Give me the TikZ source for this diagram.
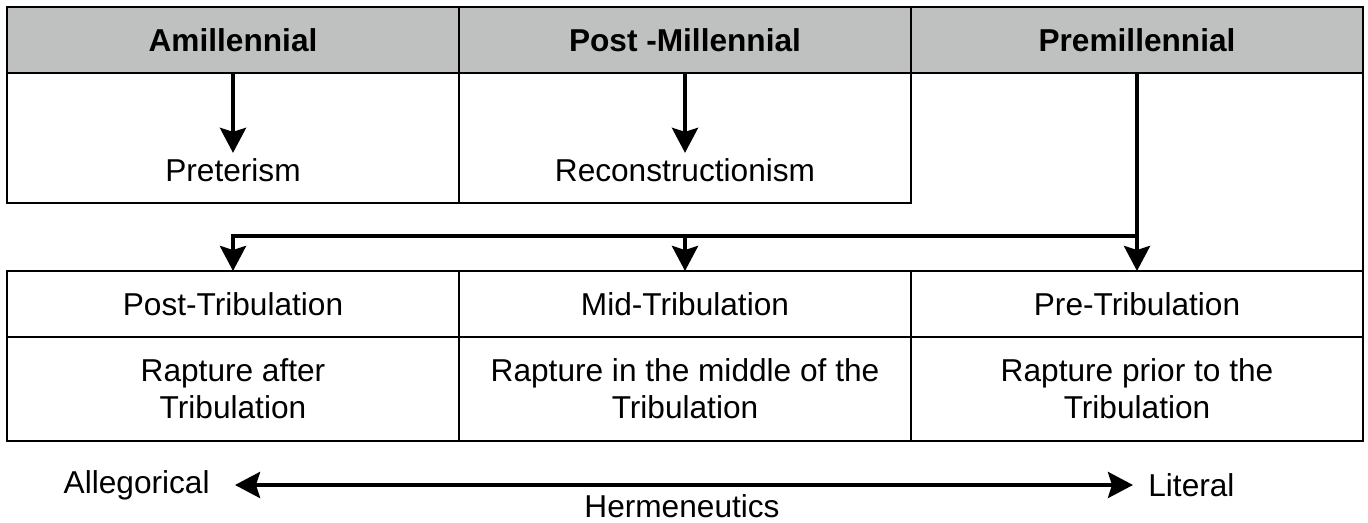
\documentclass[tikz,border=0pt]{standalone}
\usepackage{fontspec}
\setmainfont{Liberation Sans}
\usetikzlibrary{arrows.meta,positioning,calc}
\definecolor{hdrgray}{RGB}{191,193,192}

\begin{document}
\begin{tikzpicture}[font=\fontsize{18}{21}\selectfont]
\tikzset{>={Stealth[length=0.5cm, width=0.52cm, inset=0.08cm]}}
\tikzset{cell/.style={rectangle, draw, line width=1.1pt, outer sep=0pt, minimum width=9.04cm}}
\tikzset{head/.style={cell, fill=hdrgray, minimum height=1.32cm, font=\fontsize{18}{21}\selectfont\bfseries}}
\tikzset{view/.style={cell, minimum height=2.6cm}}
\tikzset{desc/.style={cell, minimum height=2.08cm, align=center}}
\tikzstyle{line} = [draw, line width=2.3pt, ->]

\useasboundingbox (0,0) rectangle (27.36,-10.46);

% views on the millennium
\node [head] (h1) at (4.66,-0.80) {Amillennial};
\node [head, right=0cm of h1] (h2) {Post -Millennial};
\node [head, right=0cm of h2] (h3) {Premillennial};

\node [view, below=0cm of h1] (a1) {};
\node [view, below=0cm of h2] (a2) {};
\node [anchor=base] (pret)  at ([yshift=0.42cm]a1.south) {Preterism};
\node [anchor=base] (recon) at ([yshift=0.42cm]a2.south) {Reconstructionism};

% views on the rapture
\node [cell, minimum height=1.32cm, below=1.36cm of a1] (t1) {Post-Tribulation};
\node [cell, minimum height=1.32cm, right=0cm of t1] (t2) {Mid-Tribulation};
\node [cell, minimum height=1.32cm, right=0cm of t2] (t3) {Pre-Tribulation};
\node [desc, below=0cm of t1] (d1) {Rapture after\\Tribulation};
\node [desc, below=0cm of t2] (d2) {Rapture in the middle of the\\Tribulation};
\node [desc, below=0cm of t3] (d3) {Rapture prior to the\\Tribulation};

\draw [line width=1.1pt] (h3.south east) -- (t3.north east);

\path [line] (h1.south) -- (pret.north);
\path [line] (h2.south) -- (recon.north);
\coordinate (split) at ([yshift=0.7cm]t3.north);
\path [line] (h3.south) -- (t3.north);
\path [line] (split) -| (t1.north);
\path [line] (split -| t2.north) -- (t2.north);

% hermeneutics axis
\node [inner xsep=0.5cm, anchor=east] (alle) at (4.70,-9.70) {Allegorical};
\node [inner xsep=0.3cm, anchor=west] (lit) at (22.66,-9.70) {Literal};
\path [line, <->] (alle) -- (lit);
\node [anchor=base] (herm) at (13.64,-10.36) {Hermeneutics};
\end{tikzpicture}
\end{document}
